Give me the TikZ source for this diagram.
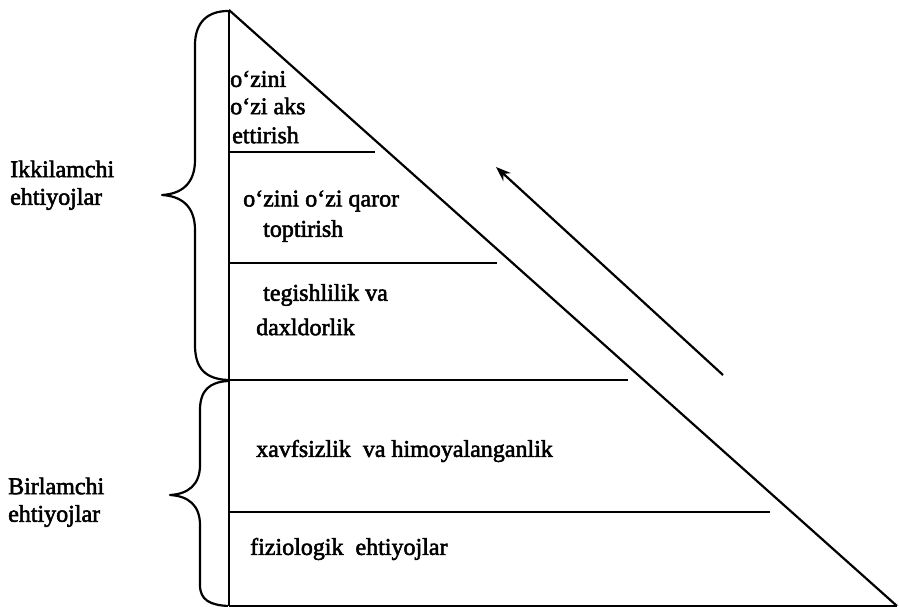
\documentclass[tikz,border=0pt]{standalone}
\usepackage{fontspec}
\setmainfont{Liberation Serif}
\newfontfamily\thk{Liberation Serif}[FakeBold=2.2]
\usetikzlibrary{arrows.meta}
\begin{document}
\begin{tikzpicture}[x=1pt,y=-1pt,
  ln/.style={line width=2.2pt},
  txt/.style={anchor=west,inner sep=0pt,font=\thk\fontsize{24}{28}\selectfont},
  brc/.style={line width=2.2pt,line join=round}]
\useasboundingbox (0,0) rectangle (899,607);
% triangle
\coordinate (A) at (229,10);
\coordinate (BL) at (229,606);
\coordinate (BR) at (897,606);
\draw[ln] (A) -- (BL);
\draw[ln] (A) -- (BR);
\draw[line width=1.6pt] (BL) -- (BR);
% level lines
\coordinate (l1a) at (229,152); \coordinate (l1b) at (375,152);
\coordinate (l2a) at (229,263); \coordinate (l2b) at (497,263);
\coordinate (l3a) at (222,380); \coordinate (l3b) at (628,380);
\coordinate (l4a) at (229,512); \coordinate (l4b) at (770,512);
\draw[ln] (l1a) -- (l1b);
\draw[ln] (l2a) -- (l2b);
\draw[ln] (l3a) -- (l3b);
\draw[ln] (l4a) -- (l4b);
% arrow
\coordinate (ar1) at (723,375);
\coordinate (ar2) at (496,167);
\draw[ln,-{Stealth[length=15pt,width=11pt]}] (ar1) -- (ar2);
% upper brace
\draw[brc] (228,11) .. controls (208,11) and (195,22) .. (195,45)
  -- (195,160) .. controls (195,185) and (180,194) .. (162,195)
  .. controls (180,196) and (195,205) .. (195,230)
  -- (195,345) .. controls (195,368) and (205,379) .. (228,380);
% lower brace
\draw[brc] (228,381) .. controls (210,382) and (200,390) .. (200,410)
  -- (200,465) .. controls (200,485) and (188,494) .. (170,495)
  .. controls (188,496) and (200,505) .. (200,525)
  -- (200,585) .. controls (200,600) and (210,605) .. (228,606);
% texts in triangle
\node[txt] (t1a) at (230,79) {o‘zini};
\node[txt] (t1b) at (230,106) {o‘zi aks};
\node[txt] (t1c) at (232,135) {ettirish};
\node[txt] (t2a) at (243,201) {o‘zini o‘zi qaror};
\node[txt] (t2b) at (263,231) {toptirish};
\node[txt] (t3a) at (263,295) {tegishlilik va};
\node[txt] (t3b) at (256,327) {daxldorlik};
\node[txt] (t4) at (256,451) {xavfsizlik\ \ va himoyalanganlik};
\node[txt] (t5) at (250,549) {fiziologik\ \ ehtiyojlar};
% side labels
\node[txt] (s1a) at (10,169) {Ikkilamchi};
\node[txt] (s1b) at (10,199) {ehtiyojlar};
\node[txt] (s2a) at (8,486) {Birlamchi};
\node[txt] (s2b) at (8,516) {ehtiyojlar};
\end{tikzpicture}
\end{document}
